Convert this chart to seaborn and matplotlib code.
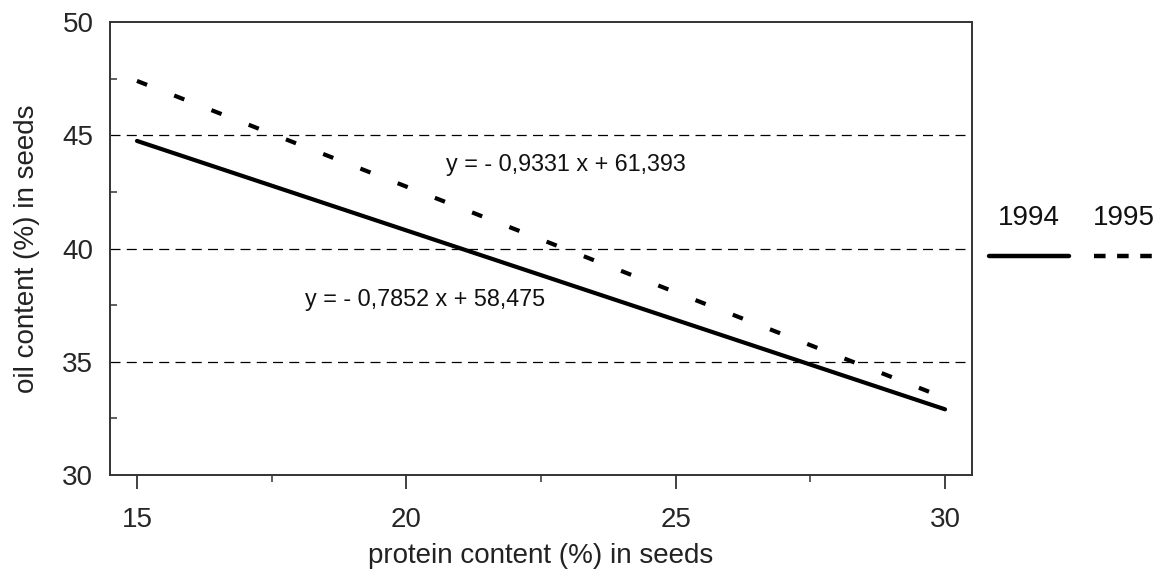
import matplotlib
matplotlib.use("Agg")
import matplotlib.pyplot as plt
import seaborn as sns
import pandas as pd
from matplotlib.lines import Line2D
from matplotlib.ticker import MultipleLocator

# Data
protein = [15, 30, 15, 30]
oil = [44.75, 32.9, 47.4, 33.4]
year = ["1994", "1994", "1995", "1995"]
eq_1994 = "y = - 0,7852 x + 58,475"
eq_1995 = "y = - 0,9331 x + 61,393"
y_ticks = [30, 35, 40, 45, 50]
x_ticks = [15, 20, 25, 30]

df = pd.DataFrame({"protein": protein, "oil": oil, "year": year})

sns.set_theme(style="white")
plt.rcParams["font.family"] = ["Liberation Sans", "DejaVu Sans"]

fig = plt.figure(figsize=(11.56, 5.69), dpi=100)
ax = fig.add_axes([0.0952, 0.1652, 0.8408 - 0.0952, 0.9613 - 0.1652])

sns.lineplot(data=df, x="protein", y="oil", style="year", ax=ax,
             dashes={"1994": "", "1995": (2.6, 7.0)},
             color="black", linewidth=3.0, legend=False)

ax.set_xlim(14.5, 30.5)
ax.set_ylim(30, 50)
ax.set_xticks(x_ticks)
ax.set_yticks(y_ticks)
ax.xaxis.set_minor_locator(MultipleLocator(2.5))
ax.yaxis.set_minor_locator(MultipleLocator(2.5))

ax.tick_params(axis="x", which="major", direction="out", length=10, width=1.3,
               color="#333333", pad=13, labelsize=20, bottom=True)
ax.tick_params(axis="x", which="minor", direction="out", length=5, width=1.1,
               color="#333333", bottom=True)
ax.tick_params(axis="y", which="major", direction="in", length=0, pad=12,
               labelsize=20, left=True)
ax.tick_params(axis="y", which="minor", direction="in", length=5, width=1.1,
               color="#333333", left=True)

for v in [35, 40, 45]:
    ax.axhline(v, color="black", linewidth=0.9, linestyle=(0, (8, 5)), zorder=1)

for s in ax.spines.values():
    s.set_color("#333333")
    s.set_linewidth(1.4)

ax.set_xlabel("protein content (%) in seeds", fontsize=20, color="#222222", labelpad=7)
ax.set_ylabel("oil content (%) in seeds", fontsize=20, color="#222222", labelpad=16)

ax.text(22.96, 43.7, eq_1995, fontsize=16.8, ha="center", va="center", color="#111111")
ax.text(20.35, 37.73, eq_1994, fontsize=16.8, ha="center", va="center", color="#111111")

# legend outside right: label above line sample
fig.text(1029 / 1156, 1 - 218 / 569, "1994", fontsize=20, ha="center", va="center", color="#111111")
fig.text(1124 / 1156, 1 - 218 / 569, "1995", fontsize=20, ha="center", va="center", color="#111111")
fig.add_artist(Line2D([989 / 1156, 1069 / 1156], [1 - 256 / 569] * 2, color="black",
                      linewidth=3.2, transform=fig.transFigure))
fig.add_artist(Line2D([1094 / 1156, 1160 / 1156], [1 - 256 / 569] * 2, color="black",
                      linewidth=3.2, linestyle=(0, (2.6, 2.6)), transform=fig.transFigure))

fig.savefig("out.png", dpi=100)
